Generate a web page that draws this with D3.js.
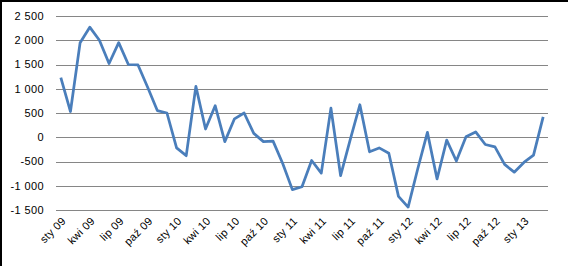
<!DOCTYPE html>
<html>
<head>
<meta charset="utf-8">
<script src="https://cdn.jsdelivr.net/npm/d3@7"></script>
<style>
  html, body { margin: 0; padding: 0; background: #fff; }
  svg { display: block; }
  text { font-family: "Liberation Sans", Arial, sans-serif; font-size: 11px; fill: #000; }
</style>
</head>
<body>
<svg id="chart" width="568" height="266"></svg>
<script>
const width = 568, height = 266;

// miesiące sty 09 .. mar 13
const miesiace = ["sty", "lut", "mar", "kwi", "maj", "cze", "lip", "sie", "wrz", "paź", "lis", "gru"];
const lata = ["09", "10", "11", "12", "13"];
const okresy = [];
lata.forEach(r => miesiace.forEach(m => okresy.push(m + " " + r)));
okresy.length = 51;

const wartosci = [
  1230, 530, 1950, 2270, 2000, 1520, 1950, 1500, 1490, 1030, 550, 500,
  -220, -380, 1050, 170, 650, -90, 380, 500, 80, -90, -80, -540,
  -1080, -1020, -480, -740, 600, -790, -50, 670, -300, -220, -330, -1220,
  -1440, -650, 100, -860, -60, -490, 10, 110, -150, -200, -560, -720,
  -520, -370, 420
];

const yTicks = [-1500, -1000, -500, 0, 500, 1000, 1500, 2000, 2500];

const svg = d3.select("#chart");

const x = d3.scalePoint()
    .domain(okresy)
    .range([56, 548])
    .padding(0.5);

const y = d3.scaleLinear()
    .domain([-1500, 2500])
    .range([210, 16]);

const pl = d3.formatLocale({ decimal: ",", thousands: " ", grouping: [3], currency: ["", ""], minus: "-" });
const fmt = pl.format(",d");

// ramka (widoczna tylko z góry i z lewej)
svg.append("rect")
    .attr("x", 1).attr("y", 1)
    .attr("width", width + 10).attr("height", height + 10)
    .attr("fill", "none")
    .attr("stroke", "#000")
    .attr("stroke-width", 2);

// linie siatki
svg.append("g")
    .selectAll("line")
    .data(yTicks)
    .join("line")
    .attr("x1", 56).attr("x2", 548)
    .attr("y1", d => Math.round(y(d)) + 0.5)
    .attr("y2", d => Math.round(y(d)) + 0.5)
    .attr("stroke", "#868686")
    .attr("stroke-width", 1);

// oś Y
svg.append("g")
    .selectAll("text")
    .data(yTicks)
    .join("text")
    .attr("x", 44)
    .attr("y", d => y(d))
    .attr("dy", "0.35em")
    .attr("text-anchor", "end")
    .style("letter-spacing", "0.4px")
    .text(d => fmt(d));

// oś X
const etykiety = okresy.filter((d, i) => i % 3 === 0);
svg.append("g")
    .selectAll("text")
    .data(etykiety)
    .join("text")
    .attr("transform", d => "translate(" + (x(d) + 3) + ",219) rotate(-45)")
    .attr("dy", "0.35em")
    .attr("text-anchor", "end")
    .style("letter-spacing", "0.3px")
    .text(d => d);

// seria
const line = d3.line()
    .x((d, i) => x(okresy[i]))
    .y(d => y(d));

svg.append("path")
    .datum(wartosci)
    .attr("d", line)
    .attr("fill", "none")
    .attr("stroke", "#4a7ebb")
    .attr("stroke-width", 2.75)
    .attr("stroke-linejoin", "round");
</script>
</body>
</html>
